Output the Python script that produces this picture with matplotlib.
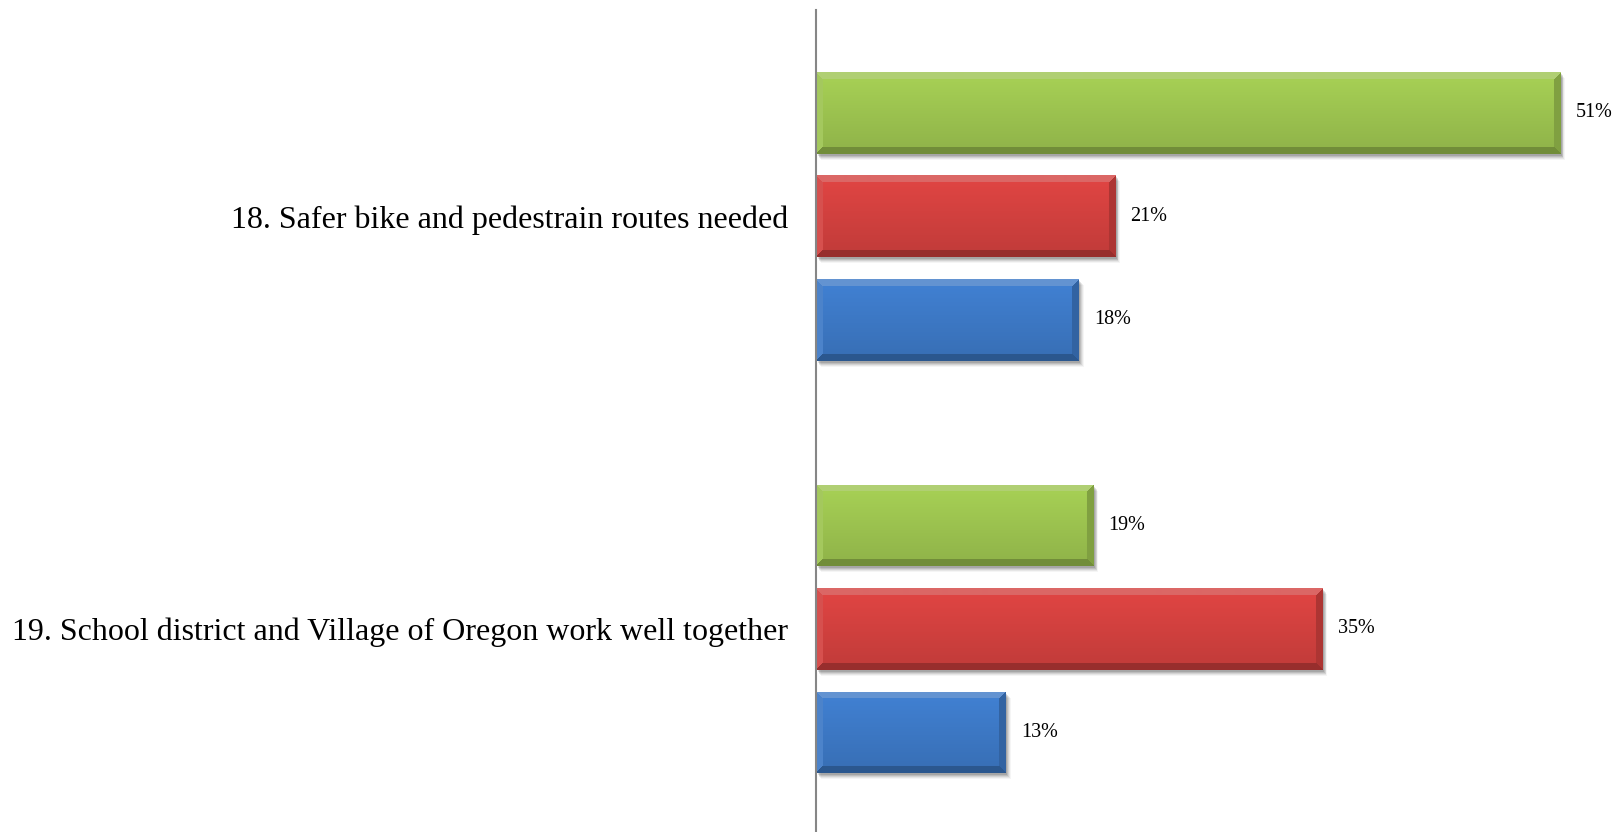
import numpy as np
import matplotlib
matplotlib.use("Agg")
import matplotlib.pyplot as plt
from matplotlib.colors import to_rgb
from matplotlib.patches import Rectangle
import matplotlib.transforms as mtransforms

# ---- data ----
categories = ["18. Safer bike and pedestrain routes needed",
              "19. School district and Village of Oregon work well together"]
series_green = [51, 19]
series_red = [20.5, 34.7]
series_blue = [18, 13]
value_labels_green = ["51%", "19%"]
value_labels_red = ["21%", "35%"]
value_labels_blue = ["18%", "13%"]

colors = ["#9DC450", "#D3413F", "#3D79C6"]
offsets = [-0.251, 0.0, 0.251]
bar_h = 0.198

W, H = 1623, 832
fig = plt.figure(figsize=(W / 100, H / 100), dpi=100)
ax_left = 816 / W
ax = fig.add_axes([ax_left, 0, 1 - ax_left, (H - 10) / H])
ax.set_xlim(0, (W - 816) / 14.59)
ax.set_ylim(1.492, -0.5)

ypos = np.arange(len(categories))
series = [series_green, series_red, series_blue]
labels = [value_labels_green, value_labels_red, value_labels_blue]

fig.canvas.draw()


def bevel_image(nx, ny, base):
    base = np.array(base)
    xx = np.arange(nx) + 0.5
    yy = np.arange(ny) + 0.5
    X, Y = np.meshgrid(xx, yy)
    dt, db, dl, dr = Y, ny - Y, X, nx - X
    grad = 1.07 - 0.16 * (Y / ny)
    img = base[None, None, :] * grad[..., None]
    b = 7.0
    top = (dt < b) & (dt <= dl) & (dt <= dr)
    bot = (db < b) & (db <= dl) & (db <= dr)
    lef = (dl < b) & ~top & ~bot
    rig = (dr < b) & ~top & ~bot
    light = base + (1 - base) * 0.2
    img[top] = light
    img[bot] = base * 0.72
    img[lef] = base + (1 - base) * 0.08
    img[rig] = base * 0.82
    img = np.clip(img, 0, 1)
    alpha = np.ones((ny, nx, 1))
    return np.concatenate([img, alpha], axis=2)


for s, (vals, col, off, labs) in enumerate(zip(series, colors, offsets, labels)):
    bars = ax.barh(ypos + off, vals, height=bar_h, color=col, zorder=2)
    for p, lab in zip(bars.patches, labs):
        x0, y0 = p.get_x(), p.get_y()
        w, h = p.get_width(), p.get_height()
        # soft shadow
        for k, a in [(6, 0.04), (5, 0.06), (4, 0.08), (3, 0.10), (2, 0.12)]:
            tr = mtransforms.offset_copy(ax.transData, fig=fig, x=k * 0.6, y=-k * 0.72, units="points")
            ax.add_patch(Rectangle((x0, y0), w, h, transform=tr, facecolor="black",
                                   alpha=a, edgecolor="none", zorder=1))
        # bevel
        (px0, py0) = ax.transData.transform((x0, y0))
        (px1, py1) = ax.transData.transform((x0 + w, y0 + h))
        nx, ny = max(int(round(abs(px1 - px0))), 2), max(int(round(abs(py1 - py0))), 2)
        img = bevel_image(nx, ny, to_rgb(col))
        im = ax.imshow(img, extent=(x0, x0 + w, y0 + h, y0), origin="upper",
                       aspect="auto", interpolation="bilinear", zorder=3)
        im.set_clip_path(p)
        ax.annotate(lab, (x0 + w, y0 + h / 2), xytext=(11, 0), textcoords="offset points",
                    ha="left", va="center", fontsize=14.5, family="Liberation Serif",
                    color="black")

ax.set_xlim(0, (W - 816) / 14.59)
ax.set_ylim(1.492, -0.5)
ax.set_yticks(ypos)
ax.set_yticklabels(categories, fontsize=23.05, family="Liberation Serif")
ax.tick_params(axis="y", length=0, pad=20)
ax.set_xticks([])
for sp in ["top", "right", "bottom"]:
    ax.spines[sp].set_visible(False)
ax.spines["left"].set_color("#868686")
ax.spines["left"].set_linewidth(1.5)
ax.spines["left"].set_zorder(5)
ax.patch.set_alpha(0)

fig.savefig("out.png", dpi=100)
